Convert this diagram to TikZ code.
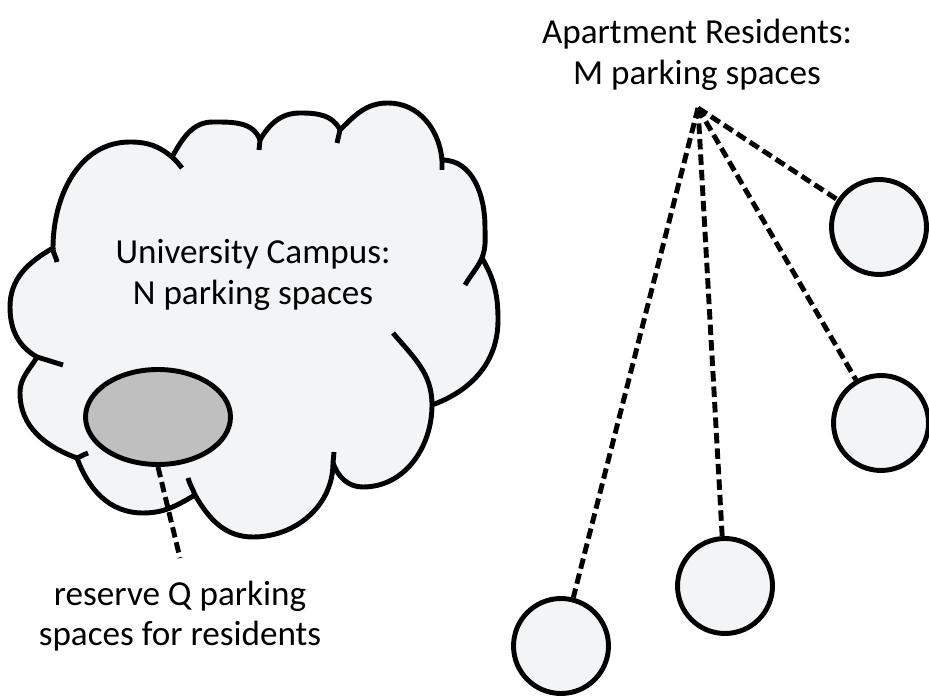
\documentclass[tikz,border=0pt]{standalone}
\usepackage{fontspec}
\setmainfont{Carlito}
\usetikzlibrary{shapes.geometric}
\definecolor{cloudgray}{HTML}{F3F4F6}
\definecolor{lotgray}{HTML}{BFBFBF}
\tikzset{
  outline/.style={line width=2.8pt, line join=round},
  link/.style={line width=2.8pt, dash pattern=on 0.21cm off 0.1cm},
  house/.style={circle, draw, outline, fill=cloudgray, minimum size=1.9cm, inner sep=0pt},
  caption/.style={align=center, font=\fontsize{20}{23}\selectfont}
}
\begin{document}
\begin{tikzpicture}[x=0.02cm, y=0.02cm]
\useasboundingbox (0,0) rectangle (929,696);
%% campus cloud
\draw[outline, fill=cloudgray] (53,448) to[out=90,in=180] (130,554) to[out=0,in=140] (172,539)
  to[out=60,in=180] (213,574) to[out=0,in=110] (260,556)
  to[out=60,in=180] (300,583) to[out=0,in=115] (340,566)
  to[out=45,in=180] (388,593) to[out=0,in=95] (442,536)
  to[out=0,in=90] (485,469) to[out=-90,in=70] (482,438)
  to[out=-60,in=90] (498,376) to[out=-90,in=20] (432,291)
  to[out=-90,in=0] (363,209) to[out=180,in=-70] (333,233)
  to[out=-90,in=0] (253,159) to[out=180,in=-60] (195,201)
  to[out=-150,in=0] (143,183) to[out=180,in=-70] (77,238)
  to[out=160,in=-90] (20,303) to[out=90,in=-120] (37,339)
  to[out=150,in=-90] (10,389) to[out=90,in=-150] (53,448) -- cycle;
%% inner folds
\draw[outline] (53,448) to[out=-90,in=100] (57,434)
  (172,539) to[out=-40,in=130] (182,528)
  (260,556) -- (259,546)
  (340,566) -- (337,553)
  (442,536) -- (442,526)
  (482,438) to[out=-115,in=60] (465,411)
  (432,291) to[out=90,in=-50] (393,363)
  (333,233) -- (334,244)
  (195,201) to[out=110,in=-75] (188,218)
  (77,238) to[out=20,in=200] (88,243)
  (37,339) -- (63,331);
\node[caption] (campus) at (253,421) {University Campus:\\N parking spaces};
\node[ellipse, draw, outline, fill=lotgray, minimum width=2.9cm, minimum height=1.9cm, inner sep=0pt] (reserve) at (158,279) {};
\node[caption] (reservenote) at (180,80) {reserve Q parking\\spaces for residents};
\coordinate (noteend) at (180,138);
\draw[link] (reserve.south) -- (noteend);

%% residents
\node[caption] (apartments) at (697,641) {Apartment Residents:\\M parking spaces};
\coordinate (hub) at (698,588);
\node[house] (res1) at (879,469) {};
\node[house] (res2) at (881,273) {};
\node[house] (res3) at (725,110) {};
\node[house] (res4) at (561,50) {};
\foreach \r in {1,...,4}
  \draw[link] (hub) -- (res\r);
\end{tikzpicture}
\end{document}
